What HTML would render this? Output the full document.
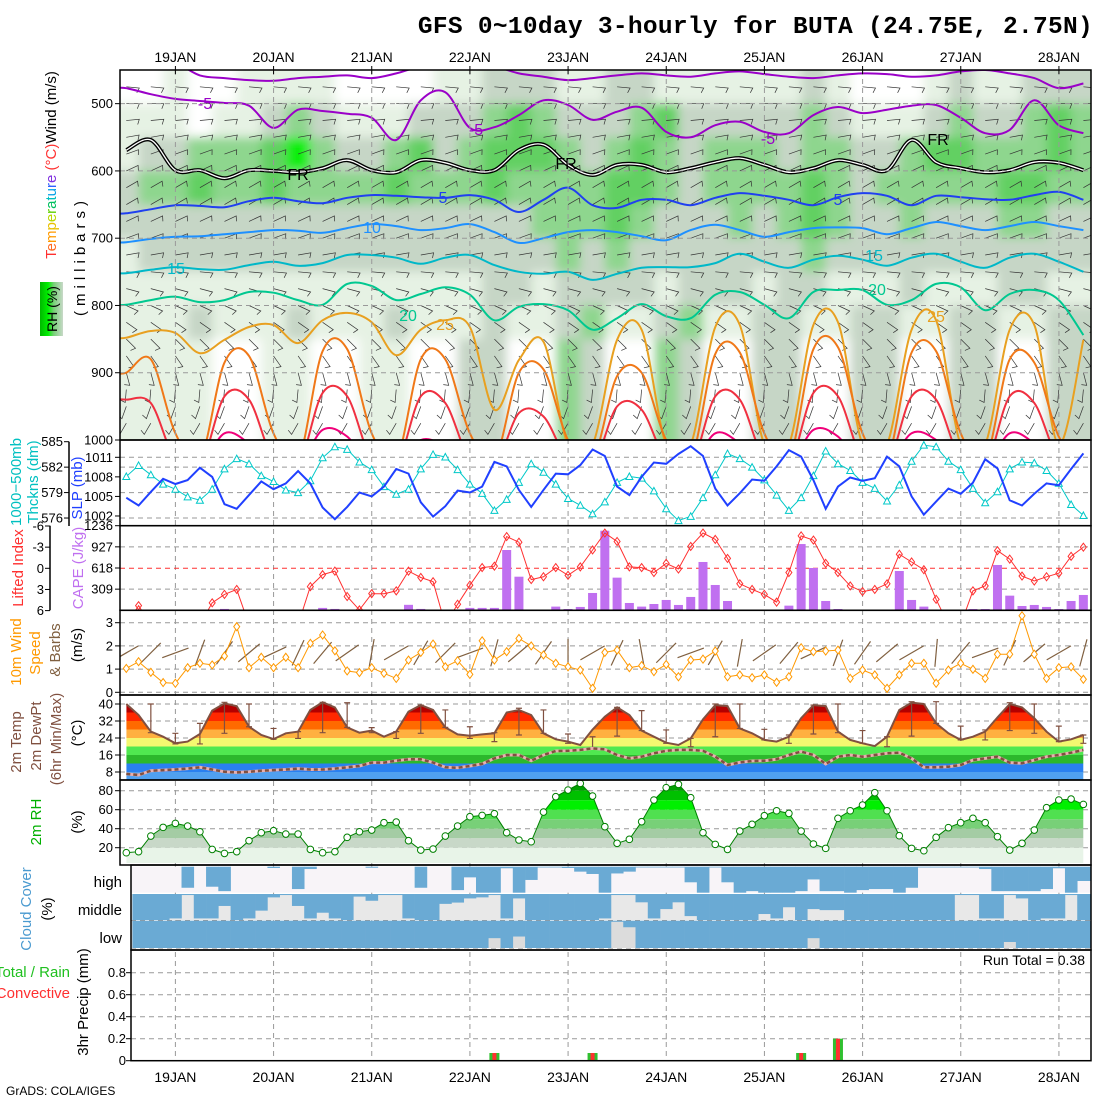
<!DOCTYPE html>
<html><head><meta charset="utf-8"><title>GFS meteogram BUTA</title>
<style>
body{margin:0;background:#fff;}
svg{display:block;font-family:"Liberation Sans",sans-serif;}
.tk{font-size:13px;fill:#000;}
.lb{font-size:14px;}
</style></head><body>
<svg id="c" width="1100" height="1100" viewBox="0 0 1100 1100">
<defs>
<clipPath id="cpMain"><rect x="120" y="70" width="971" height="370"/></clipPath>
<clipPath id="cpP2"><rect x="120" y="440" width="971" height="85.7"/></clipPath>
<clipPath id="cpP3"><rect x="120" y="525.7" width="971" height="84.6"/></clipPath>
<clipPath id="cpP4"><rect x="120" y="610.3" width="971" height="84.7"/></clipPath>
<filter id="blur" x="-5%" y="-5%" width="110%" height="110%"><feGaussianBlur stdDeviation="5"/></filter>
<linearGradient id="rhleg" x1="0" y1="0" x2="1" y2="0"><stop offset="0" stop-color="#00b800"/><stop offset="0.35" stop-color="#00f000"/><stop offset="0.6" stop-color="#78d078"/><stop offset="1" stop-color="#c8d8c8"/></linearGradient>
</defs>
<rect x="0" y="0" width="1100" height="1100" fill="#fff"/>
<text x="1093" y="33" text-anchor="end" font-family="Liberation Mono, monospace" font-weight="bold" font-size="24.5" letter-spacing="0.3">GFS 0~10day 3-hourly for BUTA (24.75E, 2.75N)</text>

<g id="gMain" clip-path="url(#cpMain)">
<g id="gRH" filter="url(#blur)"></g>
<g id="gBarb"></g>
<g id="gIso"></g>
</g>
<g id="gGrid"></g>
<g id="gP2" clip-path="url(#cpP2)"></g>
<g id="gP3" clip-path="url(#cpP3)"></g>
<g id="gP4" clip-path="url(#cpP4)"></g>
<g id="gP5"></g>
<g id="gP6"></g>
<g id="gP7"></g>
<g id="gP8"></g>
<g id="gFrame"></g>
<g id="gText">
<text transform="translate(56,165) rotate(-90)" text-anchor="middle" font-size="15"><tspan fill="#ff3030">T</tspan><tspan fill="#ff6a20">e</tspan><tspan fill="#ff9a00">m</tspan><tspan fill="#e8c000">p</tspan><tspan fill="#b8d800">e</tspan><tspan fill="#60d000">r</tspan><tspan fill="#00c060">a</tspan><tspan fill="#00c0c0">t</tspan><tspan fill="#00a0e8">u</tspan><tspan fill="#3060ff">r</tspan><tspan fill="#8030e0">e</tspan><tspan fill="#ff3030"> (°C)</tspan><tspan fill="#000">Wind (m/s)</tspan></text>
<text transform="translate(85,256) rotate(-90)" text-anchor="middle" font-size="15" letter-spacing="5">(millibars)</text>
<rect x="40" y="282" width="23" height="54" fill="url(#rhleg)"/>
<text transform="translate(57,309) rotate(-90)" text-anchor="middle" font-size="14">RH (%)</text>
<text transform="translate(21,482) rotate(-90)" text-anchor="middle" font-size="15" fill="#00c0c0">1000−500mb</text>
<text transform="translate(38,482) rotate(-90)" text-anchor="middle" font-size="15" fill="#00c0c0">Thckns (dm)</text>
<text transform="translate(82,488) rotate(-90)" text-anchor="middle" font-size="15" fill="#2040ff">SLP (mb)</text>
<text transform="translate(23,568) rotate(-90)" text-anchor="middle" font-size="15" fill="#ff3030">Lifted Index</text>
<text transform="translate(83,568) rotate(-90)" text-anchor="middle" font-size="15" fill="#c070f0">CAPE (J/kg)</text>
<text transform="translate(21,652) rotate(-90)" text-anchor="middle" font-size="15" fill="#ff9900">10m Wind</text>
<text transform="translate(40,653) rotate(-90)" text-anchor="middle" font-size="15" fill="#ff9900">Speed</text>
<text transform="translate(60,650) rotate(-90)" text-anchor="middle" font-size="15" fill="#806040">&amp; Barbs</text>
<text transform="translate(82,645) rotate(-90)" text-anchor="middle" font-size="15">(m/s)</text>
<text transform="translate(21,742) rotate(-90)" text-anchor="middle" font-size="15" fill="#805040">2m Temp</text>
<text transform="translate(41,736) rotate(-90)" text-anchor="middle" font-size="15" fill="#805040">2m DewPt</text>
<text transform="translate(61,739) rotate(-90)" text-anchor="middle" font-size="15" fill="#805040">(6hr Min/Max)</text>
<text transform="translate(82,733) rotate(-90)" text-anchor="middle" font-size="15">(°C)</text>
<text transform="translate(41,822) rotate(-90)" text-anchor="middle" font-size="15" fill="#00b000">2m RH</text>
<text transform="translate(82,822) rotate(-90)" text-anchor="middle" font-size="15">(%)</text>
<text transform="translate(31,909) rotate(-90)" text-anchor="middle" font-size="15" fill="#4a9ad0">Cloud Cover</text>
<text transform="translate(52,909) rotate(-90)" text-anchor="middle" font-size="15">(%)</text>
<text x="122" y="887" text-anchor="end" font-size="15">high</text>
<text x="122" y="915" text-anchor="end" font-size="15">middle</text>
<text x="122" y="943" text-anchor="end" font-size="15">low</text>
<text x="70" y="977" text-anchor="end" font-size="15" fill="#20c020">Total / Rain</text>
<text x="70" y="998" text-anchor="end" font-size="15" fill="#ff3030">Convective</text>
<text transform="translate(88,1002) rotate(-90)" text-anchor="middle" font-size="15">3hr Precip (mm)</text>
<text x="1085" y="965" text-anchor="end" font-size="14">Run Total = 0.38</text>
<text x="6" y="1095" font-size="12">GrADS: COLA/IGES</text>
</g>
</svg>
<script>
// ---------- data ----------
const days = ["19JAN","20JAN","21JAN","22JAN","23JAN","24JAN","25JAN","26JAN","27JAN","28JAN"];
const pTicks = [500,600,700,800,900,1000];
const thkTicks = [585,582,579,576];
const slpTicks = [1011,1008,1005,1002];
const liTicks = [-6,-3,0,3,6];
const capeTicks = [1236,927,618,309];
const wTicks = [3,2,1,0];
const tTicks = [40,32,24,16,8];
const rhTicks = [80,60,40,20];
const prTicks = [0.8,0.6,0.4,0.2,0];

const thickness = [580.9,582.2,581.1,580.0,579.4,578.5,578.1,579.4,581.8,583.0,582.4,581.0,580.3,579.3,579.0,580.4,583.1,584.4,584.1,582.6,581.7,579.7,578.8,579.4,581.8,583.5,583.2,581.7,580.0,578.9,576.9,
578.2,580.2,582.4,581.4,580.0,578.3,577.5,576.5,577.9,580.2,580.9,580.7,579.2,577.1,575.7,576.2,578.4,581.1,583.6,583.0,582.0,580.5,578.7,576.9,578.4,581.0,583.9,582.4,581.6,580.2,579.5,578.0,579.9,582.7,584.6,584.4,582.7,581.7,579.5,577.8,579.1,581.8,582.6,582.5,581.6,580.1,577.6,576.3];
const slp = [1004.8,1003.6,1005.7,1007.7,1006.9,1007.5,1009.4,1008.0,1003.8,1003.1,1005.2,1007.3,1006.1,1007.0,1008.9,1007.0,1003.3,1001.5,1003.4,1005.6,1005.0,1006.5,1009.2,1008.5,1004.1,1001.9,1003.5,1005.9,1005.6,1006.5,1010.3,
1009.6,1006.0,1003.4,1006.0,1008.5,1008.4,1009.8,1012.2,1011.2,1006.5,1005.2,1008.0,1010.2,1010.0,1011.5,1012.7,1011.2,1006.2,1003.6,1005.5,1007.6,1007.4,1009.6,1012.1,1011.1,1007.5,1003.1,1006.5,1007.9,1007.4,1007.8,1011.1,1009.6,1005.0,1002.2,1004.2,1006.2,1005.4,1007.1,1010.7,1009.3,1004.4,1003.6,1005.4,1007.0,1006.7,1009.2,1011.6];
const liftedIndex = [8,5.3,8,8,8,8,8,4.9,3.7,3.0,8,8,8,8,8,2.6,0.9,0.4,4.0,5.9,3.6,3.6,3.2,0.4,1.3,1.9,8,5.1,2.4,-0.1,-0.3,
-4.5,-3.7,1.6,1.2,-0.1,1.0,-0.2,-2.6,-5.0,-3.8,-0.2,-0.1,0.6,-0.7,0.1,-3.1,-5.0,-4.1,-1.4,2.2,3.0,3.7,4.8,0.6,-4.6,-4.0,-0.7,0.6,2.5,3.3,3.0,2.2,-2.0,-0.9,0.2,4.4,8,8,3.2,2.5,-2.5,-1.3,1.1,1.8,1.2,0.7,-1.7,-3.0];
const cape = [0,0,0,0,0,0,0,0,20,0,0,0,0,0,0,0,35,20,0,0,0,0,0,80,20,0,0,0,35,35,35,
881,491,0,0,54,19,49,253,1163,477,107,54,92,151,78,195,706,370,136,0,0,0,0,68,968,618,136,19,0,0,0,0,574,151,54,0,0,0,19,19,662,214,63,78,49,19,136,224];
const windSpeed = [1.03,1.32,0.86,0.42,0.39,1.06,1.25,1.18,1.56,2.83,1.06,1.51,1.06,1.51,1.06,2.11,2.47,1.79,0.92,0.85,1.06,0.82,0.6,1.39,1.72,2.08,1.1,1.36,0.77,2.22,1.39,1.75,2.32,2.0,1.61,1.25,1.1,0.96,0.17,
1.72,1.82,1.06,1.15,0.89,1.2,0.67,1.39,1.43,1.78,0.67,0.75,0.63,0.75,0.43,0.67,1.92,1.75,1.78,1.82,0.6,0.96,0.75,0.17,0.75,1.25,1.25,0.39,0.96,1.25,0.99,0.6,1.64,1.64,3.3,1.64,0.6,1.06,1.1,0.56];
const sfcWindDir = [240,225,250,200,215,230,245,205,220,235,190,240,210,225,250,195,230,215,180,240,205,170,225,250,210,190,235,220,245,200,215,230,240,185,220,250,205,230,240,195];
const temp2m = [40,34.8,27,24.6,21.5,22.3,25.9,36.9,40.3,39,29.3,25.4,23.5,26.2,27,37.2,40.8,38.4,29,26.5,27.5,24.6,27,36.4,39.5,37.2,29,25.7,25.1,25.7,26.2,
36,37.2,34.8,26.2,23.4,22.3,20.7,28,34,38.4,34.8,27.5,24.6,21.8,20.7,23.8,32.8,39.5,39,28.5,26.2,23.1,22.3,24.6,33.3,39.5,39,27,23.1,21.5,20.2,24.6,37.2,40.6,40,30.9,26.2,23.1,24.6,27,33.7,40,38.4,33.3,27,22.3,23.4,25.4];
const dew2m = [7.1,6.6,8.6,8.9,9.2,9.6,10.2,9.2,8.1,7.8,8.1,8.6,8.9,9.2,9.6,9.2,9.2,9.6,10.2,10.8,12.4,12.4,13.3,14,14,12.4,10.2,10,10.8,11.8,14.4,
16,16,13.3,16,17.9,18,18.4,19.1,18.7,16,14.4,15.2,16.8,18,18.4,18.4,18,15.2,11.3,12.5,13.2,13.3,14,16,17.6,16,11.8,15.2,16,15.2,16,16.8,17.1,14.4,10.2,10.2,10.5,11.3,13.6,14.4,15.2,12.4,12.1,13.6,15.2,16,17.1,18.4];
const tmax6 = [null,40,26.2,30.9,40.8,40,28.5,27,40.8,40.6,28.9,27,39.5,37.2,29.3,26.5,38,37.2,25.9,24.6,38.4,36.9,27.8,23.8,40,40,28.1,25.4,39.5,40,27.5,24.6,41.1,41.1,29.6,27.8,40.6,40,29.6,25.4];
const tmin6 = [null,26.5,21.2,21.2,26.2,29.3,23.4,23.8,26.5,29,26.5,23.8,26.2,29,23.8,22.3,25.4,26.2,21.5,18.7,24.9,27.5,21.5,19.9,24.6,28.5,23.1,21.5,25.9,26.5,21.5,19.9,24.9,30.9,23.1,23.1,27.5,26.2,22.3,21.5];
const rh2m = [14.7,15.8,32.3,41.4,45.6,42.8,36.8,18.2,14,15.8,27.4,35.8,37.9,34.4,34.4,18.2,14.7,15.8,30.9,36.8,38.6,46.3,47,27.4,17.5,18.6,32.3,42.8,52.6,54,55.8,35.8,28.1,26.3,57.5,73.7,80.7,87.7,74.4,
42.1,24.6,28.8,47.4,70.2,83.2,86.7,72.6,35.8,23.5,18.2,37.5,44.6,53.7,58.9,56.1,37.5,23.9,19.3,50.9,58.9,64.9,77.9,58.9,32.6,19.3,16.8,30.9,41.1,46.3,50.9,46.3,31.6,17.5,24.6,38.6,62.1,70.2,71.2,65.6];
const cloudHigh = [null,0,0,0,0,81,0,77,94,0,0,0,5,0,86,9,0,0,0,0,4,0,0,0,81,0,0,90,41,100,100,6,100,51,3,3,5,19,28,100,26,19,3,3,3,3,60,100,3,60,100,94,100,100,100,94,49,94,94,100,90,86,86,100,81,3,3,3,3,3,9,94,94,94,94,86,6,100,55];
const cloudMid = [null,100,100,100,94,4,94,94,46,100,94,64,13,4,46,94,72,94,100,10,26,4,4,94,100,100,38,33,17,13,4,94,17,100,100,100,100,100,100,94,4,4,32,94,58,32,85,100,100,100,100,100,77,94,51,100,58,62,62,100,100,100,100,100,100,100,100,100,4,4,94,94,4,17,100,94,94,4,100];
const cloudLow = [null,100,100,100,100,100,100,100,100,100,100,100,100,100,100,100,100,100,100,100,100,100,100,100,100,100,100,100,100,100,64,100,58,100,100,100,100,100,100,100,4,24,100,100,100,100,100,100,100,100,100,100,100,100,100,100,64,100,100,100,100,100,100,100,100,100,100,100,100,100,100,100,78,100,100,100,100,100,100];
const precipTotal = [0,0,0,0,0,0,0,0,0,0,0,0,0,0,0,0,0,0,0,0,0,0,0,0,0,0,0,0,0,0,0.07,0,0,0,0,0,0,0,0.07,0,0,0,0,0,0,0,0,0,0,0,0,0,0,0,0,0.07,0,0,0.2,0,0,0,0,0,0,0,0,0,0,0,0,0,0,0,0,0,0,0,0];
const precipConv = [0,0,0,0,0,0,0,0,0,0,0,0,0,0,0,0,0,0,0,0,0,0,0,0,0,0,0,0,0,0,0.07,0,0,0,0,0,0,0,0.07,0,0,0,0,0,0,0,0,0,0,0,0,0,0,0,0,0.07,0,0,0.2,0,0,0,0,0,0,0,0,0,0,0,0,0,0,0,0,0,0,0,0];

// upper-air (6-hourly columns, pressure levels)
const rhLevels = [475,525,575,625,675,725,775,825,875,925,975];
const rh475 = [40,40,60,40,40,60,60,60,60,40,40,40,40,60,60,75,75,75,60,60,75,75,60,60,60,60,60,60,75,60,40,40,40,60,75,60,60,75,75,75];
const rh525 = [60,60,60,40,60,60,75,85,75,60,60,60,75,75,75,85,93,85,75,75,75,85,93,75,75,75,75,75,85,75,60,60,60,75,85,75,75,85,93,85];
const rh575 = [60,75,75,85,85,85,93,96,85,75,75,85,93,75,85,93,93,93,85,75,85,93,85,75,85,85,85,75,85,85,75,75,85,93,93,85,85,85,93,85];
const rh625 = [75,85,85,93,85,85,93,85,85,85,85,93,85,85,85,93,85,85,85,85,93,93,85,75,85,85,85,85,93,85,75,85,85,85,85,85,93,93,85,85];
const rh675 = [75,75,75,75,75,75,75,75,75,75,75,75,75,75,75,75,75,85,85,85,93,85,75,75,75,85,75,85,93,85,75,75,85,75,75,75,85,85,75,75];
const rh725 = [60,75,75,75,75,75,75,75,75,75,75,75,75,75,75,75,75,75,85,75,85,75,75,75,75,75,75,75,85,75,75,75,75,75,75,75,75,75,75,75];
const rh775 = [60,60,60,60,60,60,60,60,60,60,60,60,60,60,60,75,75,60,75,75,75,75,60,75,75,75,60,75,75,60,60,60,75,60,60,60,75,75,60,60];
const rh825 = [60,60,60,75,60,60,60,75,60,60,60,75,60,60,60,75,60,60,75,85,60,60,75,85,60,60,75,75,60,60,75,75,60,60,75,75,60,60,75,75];
const rh875 = [60,60,60,60,40,40,60,60,40,40,60,60,40,40,75,75,40,40,85,75,40,40,85,75,40,40,75,75,40,40,75,75,40,40,75,75,40,40,75,75];
const rh925 = [60,60,60,60,40,40,60,60,40,40,60,60,40,40,75,75,40,40,85,75,40,40,85,75,40,40,75,75,40,40,75,75,40,40,75,75,40,40,75,75];
const rh975 = [60,60,60,60,40,40,60,60,40,40,60,60,40,40,75,75,40,40,85,75,40,40,85,75,40,40,75,75,40,40,75,75,40,40,75,75,40,40,75,75];

const isoM10 = [440,440,440,458,462,465,466,462,460,458,462,455,445,445,445,445,455,460,465,462,458,455,458,460,455,452,456,460,462,458,455,456,460,458,452,450,455,462,477,470];
const isoM5 = [477,486,493,496,499,503,536,509,511,515,521,554,495,483,536,535,517,495,502,524,512,506,542,550,532,527,542,544,517,505,514,509,503,502,521,544,539,495,532,544];
const isoFR = [569,554,599,599,611,599,600,602,596,584,599,602,584,588,599,599,569,561,591,606,591,591,602,596,587,581,591,602,596,584,591,599,554,587,596,602,599,587,588,599];
const iso5 = [663,657,651,652,654,645,640,645,648,640,636,637,639,640,636,643,661,643,625,651,655,643,643,651,640,633,637,643,651,639,633,637,651,637,639,642,643,636,631,643];
const iso10 = [706,701,698,697,694,691,688,689,692,685,679,682,688,685,679,691,707,700,691,688,691,697,703,688,680,688,698,691,685,684,685,694,685,676,682,688,682,676,682,688];
const iso15 = [752,747,743,746,747,740,735,741,737,725,725,729,738,729,725,740,750,753,750,762,753,744,743,743,737,723,735,744,732,726,732,741,729,723,735,744,729,723,735,750];
const iso20 = [799,792,787,795,792,780,781,792,799,768,771,792,783,773,784,822,802,798,807,836,819,798,816,819,784,780,799,819,780,777,777,799,792,768,773,807,783,777,792,844];
const iso25 = [848,838,841,871,851,832,829,856,822,811,825,874,836,822,832,955,881,854,1007,1007,851,836,1007,1007,832,829,1007,1007,829,825,1007,1007,836,822,1007,1007,836,829,1007,851];
const iso30 = [900,880,990,1030,885,875,990,1030,868,865,990,1030,880,880,990,1030,900,895,1000,1030,905,900,1000,1030,872,870,990,1030,865,862,990,1030,870,868,990,1030,880,885,995,1030];
const iso35 = [940,945,1030,1040,935,940,1030,1040,930,935,1030,1040,935,945,1030,1040,960,965,1030,1040,950,955,1030,1040,935,940,1030,1040,930,935,1030,1040,935,940,1030,1040,935,945,1030,1040];
const iso40 = [1020,1030,1040,1040,990,1005,1040,1040,985,995,1040,1040,1000,1010,1040,1040,1020,1030,1040,1040,1010,1020,1040,1040,990,1005,1040,1040,985,995,1040,1040,990,1000,1040,1040,990,1005,1040,1040];

const barbLevels = [475,500,525,550,575,600,625,650,675,700,725,750,775,800,825,850,875,900,925,950,975];
const barbDir = [95,90,85,80,70,65,60,60,65,70,80,95,105,115,125,135,145,165,185,200,210];

// ---------- geometry ----------
const NS = 'http://www.w3.org/2000/svg';
const X0 = 126.3, DX = 12.27, L = 120, R = 1091;
const xi = i => X0 + DX * i;
const xk = k => xi(2 * k);
const xDay = d => 175.4 + 98.17 * d;
const yP = p => 440 - (1000 - p) * 0.6727;
const yThk = v => 441.7 + (585 - v) * 8.48;
const ySlp = v => 457.3 + (1011 - v) * 6.52;
const yCape = v => 610.3 - v * (84.6 / 1236);
const yLI = v => 568.3 + v * (42.3 / 6);
const yW = v => 692.3 - v * 23.2;
const yT = v => 704 + (40 - v) * 2.125;
const yRH = v => 790.7 + (80 - v) * 0.95;
const yPr = v => 1060.7 - v * 110;

function mk(tag, attrs, parent) {
  const e = document.createElementNS(NS, tag);
  for (const k in attrs) e.setAttribute(k, attrs[k]);
  parent.appendChild(e);
  return e;
}
function smooth(pts) {
  let d = 'M' + pts[0][0].toFixed(1) + ' ' + pts[0][1].toFixed(1);
  for (let i = 0; i < pts.length - 1; i++) {
    const p0 = pts[i - 1] || pts[i], p1 = pts[i], p2 = pts[i + 1], p3 = pts[i + 2] || p2;
    const c1x = p1[0] + (p2[0] - p0[0]) / 6, c1y = p1[1] + (p2[1] - p0[1]) / 6;
    const c2x = p2[0] - (p3[0] - p1[0]) / 6, c2y = p2[1] - (p3[1] - p1[1]) / 6;
    d += 'C' + c1x.toFixed(1) + ' ' + c1y.toFixed(1) + ' ' + c2x.toFixed(1) + ' ' + c2y.toFixed(1) + ' ' + p2[0].toFixed(1) + ' ' + p2[1].toFixed(1);
  }
  return d;
}
function poly(pts) { return pts.map((p, j) => (j ? 'L' : 'M') + p[0].toFixed(1) + ' ' + p[1].toFixed(1)).join(''); }
const $ = id => document.getElementById(id);

// ---------- main panel: RH shading ----------
const rhRows = [rh475, rh525, rh575, rh625, rh675, rh725, rh775, rh825, rh875, rh925, rh975];
function rhColor(v) { return v >= 96 ? '#10ee10' : v >= 90 ? '#62d062' : v >= 80 ? '#8ed68e' : v >= 70 ? '#c6d6c6' : v >= 50 ? '#e6f2e4' : '#ffffff'; }
const gRH = $('gRH');
rhRows.forEach((row, j) => {
  const p = rhLevels[j];
  row.forEach((v, k) => {
    const x0 = k === 0 ? 100 : xk(k) - 12.27, x1 = k === row.length - 1 ? 1110 : xk(k) + 12.27;
    const yTop = j === 0 ? 50 : yP(p - 25), yBot = j === rhRows.length - 1 ? 460 : yP(p + 25);
    const c = mk('rect', { x: x0, y: yTop, width: x1 - x0 + 0.5, height: yBot - yTop + 0.5, fill: rhColor(v) }, gRH);
    
    
  });
});

// ---------- main panel: wind barbs ----------
const gBarb = $('gBarb');
for (let k = 0; k < 40; k++) {
  barbLevels.forEach((p, j) => {
    const th = barbDir[j] * Math.PI / 180;
    const x = xk(k), y = yP(p);
    const ux = Math.sin(th), uy = -Math.cos(th);
    const ex = x + ux * 13, ey = y + uy * 13;
    const fx = ex + (-uy) * 5 - ux * 2, fy = ey + ux * 5 - uy * 2;
    const b = mk('path', { d: 'M' + x.toFixed(1) + ' ' + y.toFixed(1) + 'L' + ex.toFixed(1) + ' ' + ey.toFixed(1) + 'L' + fx.toFixed(1) + ' ' + fy.toFixed(1), stroke: '#333', 'stroke-width': 0.7, fill: 'none' }, gBarb);
    
    
  });
}

// ---------- main panel: isotherms ----------
const gIso = $('gIso');
const isoDefs = [
  [isoM10, '#9a00c8', 2, 'isotherm-minus10'],
  [isoM5, '#9a00c8', 2, 'isotherm-minus5'],
  [iso5, '#2040f0', 2, 'isotherm-5'],
  [iso10, '#1e90ff', 2, 'isotherm-10'],
  [iso15, '#00b8c8', 2, 'isotherm-15'],
  [iso20, '#00c890', 2, 'isotherm-20'],
  [iso25, '#e8a020', 2, 'isotherm-25'],
  [iso30, '#f07818', 2, 'isotherm-30'],
  [iso35, '#f03040', 2, 'isotherm-35'],
  [iso40, '#f0007a', 2, 'isotherm-40']
];
isoDefs.forEach(d => {
  const pts = d[0].map((p, k) => [xk(k), yP(p)]);
  pts.unshift([L - 6, pts[0][1]]);
  const e = mk('path', { d: smooth(pts), stroke: d[1], 'stroke-width': d[2], fill: 'none' }, gIso);
  
  
});
{
  const pts = isoFR.map((p, k) => [xk(k), yP(p)]);
  const a = mk('path', { d: smooth(pts), stroke: '#000', 'stroke-width': 4, fill: 'none' }, gIso);
  
  
  const b = mk('path', { d: smooth(pts), stroke: '#fff', 'stroke-width': 1.3, fill: 'none' }, gIso);
  
  
}
const isoLabels = [
  ['-5', 205, 109, '#9a00c8'], ['-5', 476, 135, '#9a00c8'], ['-5', 768, 144, '#9a00c8'],
  ['FR', 298, 180, '#000'], ['FR', 566, 169, '#000'], ['FR', 938, 145, '#000'],
  ['5', 443, 203, '#2040f0'], ['5', 838, 205, '#2040f0'],
  ['10', 372, 233, '#1e90ff'],
  ['15', 176, 274, '#00b8c8'], ['15', 874, 261, '#00b8c8'],
  ['20', 408, 321, '#00c890'], ['20', 877, 295, '#00c890'],
  ['25', 445, 330, '#e8a020'], ['25', 936, 322, '#e8a020']
];
isoLabels.forEach(l => {
  const t = mk('text', { x: l[1], y: l[2], 'text-anchor': 'middle', 'font-size': 16, fill: l[3] }, gIso);
  t.textContent = l[0];
  
  
});

// ---------- grid lines ----------
const gGrid = $('gGrid');
function dashH(y, x0, x1, col) {
  const e = mk('line', { x1: x0, x2: x1, y1: y, y2: y, stroke: col || '#999', 'stroke-width': 1, 'stroke-dasharray': '5,4' }, gGrid);
  
  
}
days.forEach((d, j) => {
  const x = xDay(j);
  const v = mk('line', { x1: x, x2: x, y1: 70, y2: 1060.7, stroke: '#999', 'stroke-width': 1, 'stroke-dasharray': '5,4' }, gGrid);
  
  
});
pTicks.slice(0, 5).forEach(p => dashH(yP(p), L, R));

// ---------- panel 2: thickness + SLP ----------
const gP2 = $('gP2');
[1011].forEach(v => dashH(ySlp(v), L, R));
[582, 579, 576].forEach(v => dashH(yThk(v), L, R));
{
  const e = mk('path', { d: poly(thickness.map((v, i) => [xi(i), yThk(v)])), stroke: '#00c8c8', 'stroke-width': 1, fill: 'none' }, gP2);
  
  
  thickness.forEach((v, i) => {
    const x = xi(i), y = yThk(v);
    const m = mk('path', { d: 'M' + (x - 3.5) + ' ' + (y + 3) + 'L' + x + ' ' + (y - 3.5) + 'L' + (x + 3.5) + ' ' + (y + 3) + 'Z', stroke: '#00c8c8', fill: '#fff', 'stroke-width': 1 }, gP2);
    
    
  });
  const s = mk('path', { d: poly(slp.map((v, i) => [xi(i), ySlp(v)])), stroke: '#2040ff', 'stroke-width': 2, fill: 'none' }, gP2);
  
  
}

// ---------- panel 3: CAPE + LI ----------
const gP3 = $('gP3');
[927, 309].forEach(v => dashH(yCape(v), L, R));
dashH(yLI(0), L, R, '#ff3030');
cape.forEach((v, i) => {
  if (v <= 0) return;
  const b = mk('rect', { x: xi(i) - 4.5, y: yCape(v), width: 9, height: 610.3 - yCape(v), fill: '#c070f0' }, gP3);
  
  
});
{
  const e = mk('path', { d: poly(liftedIndex.map((v, i) => [xi(i), yLI(v)])), stroke: '#ff3030', 'stroke-width': 1, fill: 'none' }, gP3);
  
  
  liftedIndex.forEach((v, i) => {
    const x = xi(i), y = yLI(v);
    const m = mk('path', { d: 'M' + x + ' ' + (y - 4) + 'L' + (x + 3) + ' ' + y + 'L' + x + ' ' + (y + 4) + 'L' + (x - 3) + ' ' + y + 'Z', stroke: '#ff3030', fill: 'none', 'stroke-width': 1 }, gP3);
    
    
  });
}

// ---------- panel 4: surface wind ----------
const gP4 = $('gP4');
wTicks.forEach(v => dashH(yW(v), L, R));
sfcWindDir.forEach((dir, k) => {
  const th = dir * Math.PI / 180, x = xk(k), y = yW(1.7);
  const ux = Math.sin(th), uy = -Math.cos(th);
  const b = mk('line', { x1: x - ux * 14, y1: y - uy * 14, x2: x + ux * 14, y2: y + uy * 14, stroke: '#806040', 'stroke-width': 1.2 }, gP4);
  
  
});
{
  const e = mk('path', { d: poly(windSpeed.map((v, i) => [xi(i), yW(v)])), stroke: '#ff9900', 'stroke-width': 1, fill: 'none' }, gP4);
  
  
  windSpeed.forEach((v, i) => {
    const x = xi(i), y = yW(v);
    const m = mk('path', { d: 'M' + x + ' ' + (y - 4) + 'L' + (x + 3) + ' ' + y + 'L' + x + ' ' + (y + 4) + 'L' + (x - 3) + ' ' + y + 'Z', stroke: '#ff9900', fill: '#fff', 'stroke-width': 1 }, gP4);
    
    
  });
}

// ---------- panel 5: temperature ----------
const gP5 = $('gP5');
const tEdges = [4, 8, 12, 16, 20, 24, 28, 32, 36, 50];
const tColors = ['#50a0f0', '#2a80f0', '#2cb82c', '#50e850', '#f4f870', '#ffb040', '#ff6a00', '#ff2800', '#b40000'];
{
  const cp = mk('clipPath', { id: 'cpTemp' }, document.querySelector('defs'));
  const pts = temp2m.map((v, i) => [xi(i), yT(v)]);
  pts.push([xi(temp2m.length - 1), 780], [xi(0), 780]);
  mk('path', { d: poly(pts) + 'Z' }, cp);
  const g = mk('g', { 'clip-path': 'url(#cpTemp)' }, gP5);
  
  
  tColors.forEach((c, j) => {
    const y1 = Math.min(780, yT(tEdges[j])), y0 = yT(tEdges[j + 1]);
    const r = mk('rect', { x: xi(0), y: y0, width: xi(temp2m.length - 1) - xi(0), height: y1 - y0, fill: c }, g);
    
    
  });
}
tTicks.forEach(v => dashH(yT(v), L, R));
tmax6.forEach((v, k) => {
  if (v === null) return;
  const x = xk(k), y0 = yT(v), y1 = yT(tmin6[k]);
  const e = mk('path', { d: 'M' + x + ' ' + y0 + 'V' + y1 + 'M' + (x - 3) + ' ' + y0 + 'H' + (x + 3) + 'M' + (x - 3) + ' ' + y1 + 'H' + (x + 3), stroke: '#805040', 'stroke-width': 1.2, fill: 'none' }, gP5);
  
  
});
{
  const t = mk('path', { d: poly(temp2m.map((v, i) => [xi(i), yT(v)])), stroke: '#805040', 'stroke-width': 2, fill: 'none' }, gP5);
  
  
  const dpts = poly(dew2m.map((v, i) => [xi(i), yT(v)]));
  const d1 = mk('path', { d: dpts, stroke: '#e8b0b0', 'stroke-width': 3, fill: 'none' }, gP5);
  
  
  const d2 = mk('path', { d: dpts, stroke: '#805040', 'stroke-width': 2.5, fill: 'none', 'stroke-dasharray': '4,3' }, gP5);
  
  
}

// ---------- panel 6: 2m RH ----------
const gP6 = $('gP6');
const rhEdges = [0, 20, 30, 40, 50, 60, 70, 80, 100];
const rhColors = ['#e8f4e8', '#c8d8c8', '#a4cca4', '#78d078', '#50e050', '#00f000', '#00c000', '#00a000'];
{
  const cp = mk('clipPath', { id: 'cpRH' }, document.querySelector('defs'));
  const pts = rh2m.map((v, i) => [xi(i), yRH(v)]);
  pts.push([xi(rh2m.length - 1), 863], [xi(0), 863]);
  mk('path', { d: poly(pts) + 'Z' }, cp);
  const g = mk('g', { 'clip-path': 'url(#cpRH)' }, gP6);
  
  
  rhColors.forEach((c, j) => {
    const y1 = Math.min(863, yRH(rhEdges[j])), y0 = yRH(rhEdges[j + 1]);
    const r = mk('rect', { x: xi(0), y: y0, width: xi(rh2m.length - 1) - xi(0), height: y1 - y0, fill: c }, g);
    
    
  });
}
rhTicks.forEach(v => dashH(yRH(v), L, R));
{
  const e = mk('path', { d: poly(rh2m.map((v, i) => [xi(i), yRH(v)])), stroke: '#008000', 'stroke-width': 1, fill: 'none' }, gP6);
  
  
  rh2m.forEach((v, i) => {
    const c = mk('circle', { cx: xi(i), cy: yRH(v), r: 3.3, fill: '#fff', stroke: '#008000', 'stroke-width': 1 }, gP6);
    
    
  });
}

// ---------- panel 7: cloud cover ----------
const gP7 = $('gP7');
const CL = 131;
const rows = [[cloudHigh, 866.7, 26, '#f8f4f8', 'high-cloud'], [cloudMid, 894, 26, '#e8e8e8', 'middle-cloud'], [cloudLow, 920.7, 27.3, '#dcdcdc', 'low-cloud']];
rows.forEach(r => {
  const bg = mk('rect', { x: CL, y: r[1], width: R - CL, height: r[2], fill: r[3] }, gP7);
  
  
  r[0].forEach((v, i) => {
    if (v === null || v <= 0) return;
    const x0 = xi(i) - DX / 2, x1 = i === r[0].length - 1 ? R : xi(i) + DX / 2;
    const b = mk('rect', { x: x0, y: r[1], width: x1 - x0 + 0.3, height: r[2] * v / 100, fill: '#6aaad4' }, gP7);
    
    
  });
});
dashH(920.5, CL, R, '#888');
dashH(948, CL, R, '#888');

// ---------- panel 8: precipitation ----------
const gP8 = $('gP8');
prTicks.slice(0, 4).forEach(v => dashH(yPr(v), CL, R));
precipTotal.forEach((v, i) => {
  if (v <= 0) return;
  const g = mk('rect', { x: xi(i) - 5, y: yPr(v), width: 10, height: 1060.7 - yPr(v), fill: '#30c030' }, gP8);
  
  
  const c = precipConv[i];
  const rr = mk('rect', { x: xi(i) - 2, y: yPr(c), width: 4, height: 1060.7 - yPr(c), fill: '#ff3030' }, gP8);
  
  
});

// ---------- frames, ticks, labels ----------
const gF = $('gFrame');
function frame(x, y, w, h, name) {
  const e = mk('rect', { x: x, y: y, width: w, height: h, fill: 'none', stroke: '#000', 'stroke-width': 1.5 }, gF);
  
  
}
frame(L, 70, R - L, 370, 'upper-air-frame');
frame(L, 440, R - L, 85.7, 'thickness-frame');
frame(L, 525.7, R - L, 84.6, 'cape-frame');
frame(L, 610.3, R - L, 84.7, 'wind-frame');
frame(L, 695, R - L, 85, 'temperature-frame');
frame(L, 780, R - L, 85, 'rh2m-frame');
frame(CL, 865, R - CL, 85, 'cloud-frame');
frame(CL, 950, R - CL, 110.7, 'precip-frame');
function vaxis(x, y0, y1, name) {
  const e = mk('line', { x1: x, x2: x, y1: y0, y2: y1, stroke: '#000', 'stroke-width': 1.5 }, gF);
  
  
}
vaxis(69, 441.7, 526, 'thickness-axis');
vaxis(50, 525.7, 610.3, 'lifted-index-axis');

const gT = $('gText');
function tick(x, y, label, name, ax) {
  const t = mk('text', { x: x, y: y + 4.5, 'text-anchor': 'end', class: 'tk' }, gT);
  t.textContent = label;
  
  
  const l = mk('line', { x1: ax - 5, x2: ax, y1: y, y2: y, stroke: '#000', 'stroke-width': 1 }, gT);
  
  
}
pTicks.forEach(v => tick(113, yP(v), String(v), 'pressure-tick', L));
thkTicks.forEach(v => tick(63, yThk(v), String(v), 'thickness-tick', 69));
slpTicks.forEach(v => tick(113, ySlp(v), String(v), 'slp-tick', L));
liTicks.forEach(v => tick(44, yLI(v), String(v), 'lifted-index-tick', 50));
capeTicks.forEach(v => tick(113, yCape(v), String(v), 'cape-tick', L));
wTicks.forEach(v => tick(113, yW(v), String(v), 'wind-tick', L));
tTicks.forEach(v => tick(113, yT(v), String(v), 'temperature-tick', L));
rhTicks.forEach(v => tick(113, yRH(v), String(v), 'rh2m-tick', L));
prTicks.forEach(v => tick(126, yPr(v), String(v), 'precip-tick', CL));
days.forEach((d, j) => {
  const x = xDay(j);
  const a = mk('text', { x: x, y: 62, 'text-anchor': 'middle', 'font-size': 14 }, gT);
  a.textContent = d;
  
  
  const b = mk('text', { x: x, y: 1082, 'text-anchor': 'middle', 'font-size': 14 }, gT);
  b.textContent = d;
  
  
  const m = mk('line', { x1: x, x2: x, y1: 66, y2: 74, stroke: '#000' }, gT);
  
  
});
</script>
</body></html>
